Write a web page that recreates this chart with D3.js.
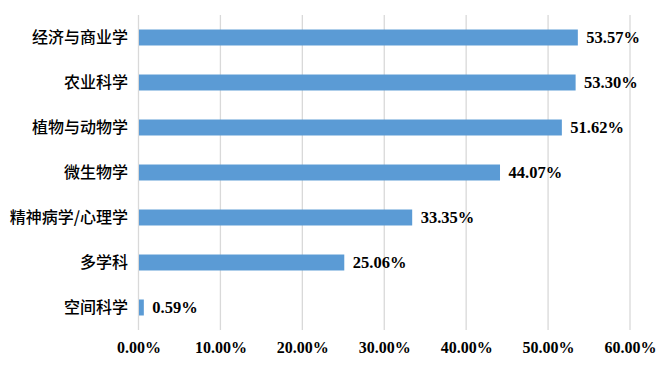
<!DOCTYPE html>
<html><head><meta charset="utf-8">
<script src="https://cdn.jsdelivr.net/npm/d3@7"></script>
<style>body{margin:0;background:#fff}</style>
</head><body>
<svg id="c" width="663" height="371"></svg>
<script>
const categories = ["经济与商业学","农业科学","植物与动物学","微生物学","精神病学/心理学","多学科","空间科学"];
const values = [53.57, 53.30, 51.62, 44.07, 33.35, 25.06, 0.59];
const ticks = [0,10,20,30,40,50,60];

const svg = d3.select("#c");
const x = d3.scaleLinear().domain([0,60]).range([138.5,630]);
const y = d3.scaleBand().domain(categories).range([15,330]).paddingInner(0.645).paddingOuter(0.3225);

svg.append("g").selectAll("line").data(ticks).join("line")
  .attr("x1",d=>x(d)).attr("x2",d=>x(d)).attr("y1",15).attr("y2",330)
  .attr("stroke","#d9d9d9").attr("stroke-width",1.3);

svg.append("g").selectAll("rect").data(values).join("rect")
  .attr("x",x(0)+0.5).attr("y",(d,i)=>y(categories[i]))
  .attr("width",d=>x(d)-x(0)).attr("height",y.bandwidth())
  .attr("fill","#5B9BD5");

svg.append("g").selectAll("text").data(values).join("text")
  .attr("x",d=>x(d)+9).attr("y",(d,i)=>y(categories[i])+y.bandwidth()/2)
  .attr("dy","0.35em")
  .attr("font-family","'Liberation Serif','Times New Roman',serif")
  .attr("font-weight","bold").attr("font-size",16.5)
  .text(d=>d.toFixed(2)+"%");

svg.append("g").selectAll("text").data(categories).join("text")
  .attr("x",128).attr("y",d=>y(d)+y.bandwidth()/2)
  .attr("dy","0.36em").attr("text-anchor","end")
  .attr("font-family","'Noto Sans CJK SC',sans-serif")
  .attr("font-weight",500)
  .attr("font-size",16)
  .text(d=>d);

const axis = d3.axisBottom(x).tickValues(ticks).tickSize(0).tickFormat(d=>d.toFixed(2)+"%");
const ag = svg.append("g").attr("transform","translate(0,339)").call(axis);
ag.select(".domain").remove();
ag.selectAll("text").attr("font-family","'Liberation Serif','Times New Roman',serif")
  .attr("font-weight","bold").attr("font-size",16).attr("fill","#000").attr("dy","0.71em");
</script>
</body></html>
